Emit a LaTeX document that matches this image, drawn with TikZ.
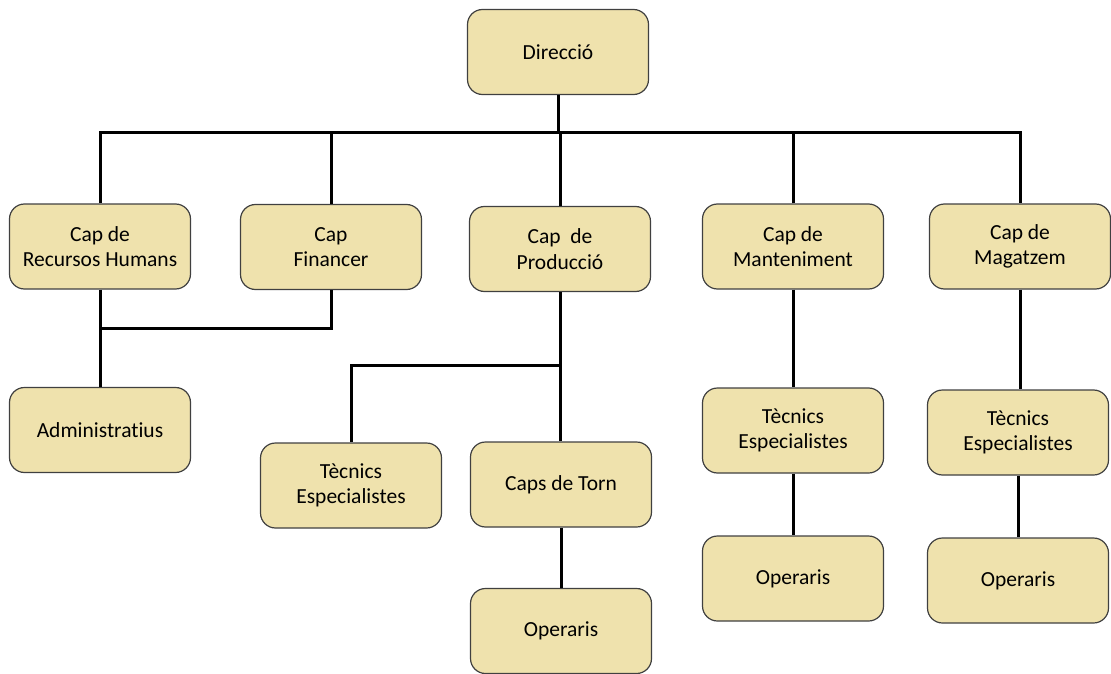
\documentclass[tikz,border=0pt]{standalone}
\usepackage{fontspec}
\setmainfont{Carlito}[Ligatures=NoCommon]
\begin{document}
\begin{tikzpicture}[x=1pt,y=-1pt,
  box/.style={draw=black!75, line width=1.2pt, fill=boxfill, rounded corners=15pt,
    minimum width=181pt, minimum height=85pt, align=center, inner sep=2pt,
    font=\fontsize{21.5}{25.5}\selectfont},
  link/.style={line width=3pt, black}]
\definecolor{boxfill}{HTML}{EFE2AD}
\useasboundingbox (0,0) rectangle (1111,674);

% connector junction levels
\coordinate (bus) at (558,133);
\coordinate (adj) at (0,328);
\coordinate (spl) at (0,365);

% top level
\node[box] (dir) at (558,52) {Direcció};

% department heads
\node[box] (rh)   at (100,246.5)  {Cap de\\Recursos Humans};
\node[box] (fin)  at (331,247)    {Cap\\Financer};
\node[box] (prod) at (560,249)    {Cap~~de\\Producció};
\node[box] (mant) at (793,246.5)  {Cap de\\Manteniment};
\node[box] (mag)  at (1020,246.5) {Cap de\\Magatzem};

% staff
\node[box] (adm)  at (100,430)    {Administratius};
\node[box] (tec1) at (351,485.5)  {Tècnics\\Especialistes};
\node[box] (torn) at (561,484.5)  {Caps de Torn};
\node[box] (op1)  at (561,631)    {Operaris};
\node[box] (tm)   at (793,430.5)  {Tècnics\\Especialistes};
\node[box] (om)   at (793,578.5)  {Operaris};
\node[box] (tg)   at (1018,432.5) {Tècnics\\Especialistes};
\node[box] (og)   at (1018,580.5) {Operaris};

% connectors
\draw[link] (dir.south) -- (bus);
\draw[link] (rh.north) |- (bus) -| (mag.north);
\draw[link] (fin.north) -- (fin.north |- bus);
\draw[link] (prod.north) -- (prod.north |- bus);
\draw[link] (mant.north) -- (mant.north |- bus);
\draw[link] (rh.south) -- (adm.north);
\draw[link] (fin.south) |- (rh.south |- adj);
\draw[link] (prod.south) -- (prod.south |- torn.north);
\draw[link] (prod.south |- spl) -| (tec1.north);
\draw[link] (torn.south) -- (op1.north);
\draw[link] (mant.south) -- (tm.north);
\draw[link] (tm.south) -- (om.north);
\draw[link] (mag.south) -- (mag.south |- tg.north);
\draw[link] (tg.south) -- (og.north);
\end{tikzpicture}
\end{document}
